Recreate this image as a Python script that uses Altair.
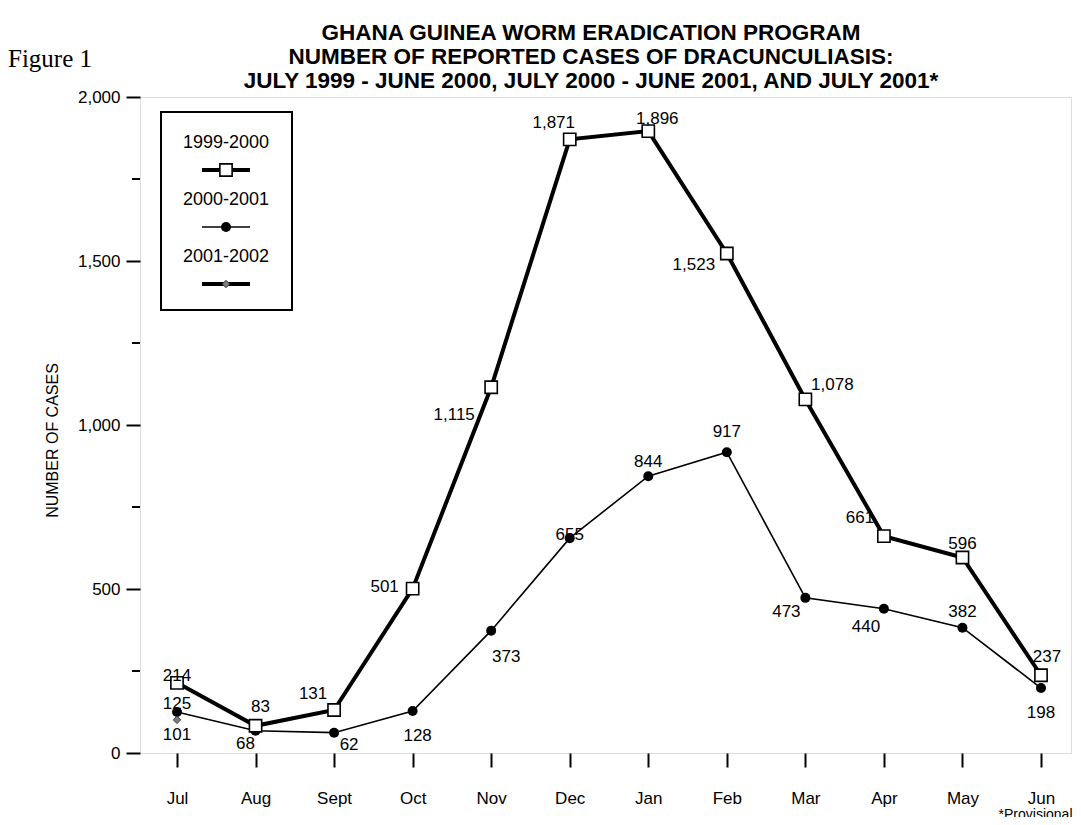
import altair as alt
import pandas as pd

# ---------------- data ----------------
months = ["Jul", "Aug", "Sept", "Oct", "Nov", "Dec", "Jan", "Feb", "Mar", "Apr", "May", "Jun"]
series_names = ["1999-2000", "2000-2001", "2001-2002"]
cases_1999_2000 = [214, 83, 131, 501, 1115, 1871, 1896, 1523, 1078, 661, 596, 237]
cases_2000_2001 = [125, 68, 62, 128, 373, 655, 844, 917, 473, 440, 382, 198]
months_2001_2002 = ["Jul"]
cases_2001_2002 = [101]
y_ticks = [0, 500, 1000, 1500, 2000]
y_minor_ticks = [250, 750, 1250, 1750]
title_lines = [
    "GHANA GUINEA WORM ERADICATION PROGRAM",
    "NUMBER OF REPORTED CASES OF DRACUNCULIASIS:",
    "JULY 1999 - JUNE 2000, JULY 2000 - JUNE 2001, AND JULY 2001*",
]

# label offsets (pixels) of each value label from its marker
label_dx_1999 = [0, 5, -21, -28, -37, -16, 9, -33, 27, -24, 0, 6]
label_dy_1999 = [-7, -19, -16, -2, 28, -16, -12, 12, -14, -18, -14, -18]
label_dx_2000 = [0, -10, 15, 5, 15, 0, 0, 0, -19, -18, 0, 0]
label_dy_2000 = [-8, 13, 12, 25, 26, -3, -14, -20, 14, 18, -16, 25]
label_dx_2001 = [0]
label_dy_2001 = [15]

FONT = "Liberation Sans"
PLOT_W = 931
PLOT_H = 656

df99 = pd.DataFrame({"month": months, "cases": cases_1999_2000, "dx": label_dx_1999, "dy": label_dy_1999})
df00 = pd.DataFrame({"month": months, "cases": cases_2000_2001, "dx": label_dx_2000, "dy": label_dy_2000})
df01 = pd.DataFrame({"month": months_2001_2002, "cases": cases_2001_2002, "dx": label_dx_2001, "dy": label_dy_2001})

x_enc = alt.X(
    "month:N",
    sort=months,
    scale=alt.Scale(type="point", domain=months, padding=0, range=[37, 901]),
    axis=alt.Axis(
        title="*Provisional", titleX=PLOT_W + 1, titleAlign="right", titleFontSize=14,
        titleFontWeight="normal", titlePadding=1, titleFont=FONT, titleColor="black",
        labelAngle=0, labelFontSize=17, labelPadding=23, labelFont=FONT, labelColor="black",
        tickSize=14, tickWidth=2, tickColor="black", domain=False, grid=False,
    ),
)
y_enc = alt.Y(
    "cases:Q",
    scale=alt.Scale(domain=[0, 2000], nice=False, zero=True),
    axis=alt.Axis(
        title="NUMBER OF CASES", titleFontSize=16, titleFontWeight="normal", titleFont=FONT,
        titleColor="black", titleX=-88, titleY=343, titleBaseline="middle", titleAngle=270,
        values=y_ticks, format=",.0f", labelFontSize=17, labelPadding=6, labelFont=FONT,
        labelColor="black", tickSize=14, tickWidth=2, tickColor="black", domain=False, grid=False,
    ),
)

minor = alt.Chart(pd.DataFrame({"cases": y_minor_ticks})).mark_rule(
    color="black", strokeWidth=2
).encode(y=y_enc, x=alt.value(-8), x2=alt.value(0))

line00 = alt.Chart(df00).mark_line(color="black", strokeWidth=1.6).encode(x=x_enc, y=y_enc)
pts00 = alt.Chart(df00).mark_point(shape="circle", filled=True, color="black", size=100, opacity=1).encode(x=x_enc, y=y_enc)
line99 = alt.Chart(df99).mark_line(color="black", strokeWidth=4).encode(x=x_enc, y=y_enc)
pts99 = alt.Chart(df99).mark_point(
    shape="square", filled=True, fill="white", stroke="black", strokeWidth=1.6, size=150, opacity=1
).encode(x=x_enc, y=y_enc)
pts01 = alt.Chart(df01).mark_point(
    shape="diamond", filled=True, fill="#808080", stroke="#333333", strokeWidth=1, size=55, opacity=1
).encode(x=x_enc, y=y_enc)


def labels(df):
    return alt.Chart(df).mark_text(
        font=FONT, fontSize=17, color="black", align="center", baseline="middle",
        dx=alt.ExprRef(expr="datum.dx"), dy=alt.ExprRef(expr="datum.dy"),
    ).encode(x=x_enc, y=y_enc, text=alt.Text("cases:Q", format=",.0f"))


lab99 = labels(df99)
lab00 = labels(df00)
lab01 = labels(df01)

# ---------------- custom legend (inside plot, top-left) ----------------
legend_layers = [
    alt.Chart(pd.DataFrame({"series": series_names[:1]})).mark_rect(
        fill="white", stroke="black", strokeWidth=2
    ).encode(x=alt.value(21), x2=alt.value(152), y=alt.value(15), y2=alt.value(213))
]
legend_styles = [
    dict(width=4, shape="square", fill="white", stroke="black", size=150, sw=1.6),
    dict(width=1.6, shape="circle", fill="black", stroke="black", size=100, sw=0),
    dict(width=4, shape="diamond", fill="#808080", stroke="#333333", size=55, sw=1),
]
for i, name in enumerate(series_names):
    st = legend_styles[i]
    ty = 46 + i * 57
    sy = 73 + i * 57
    d = pd.DataFrame({"series": [name]})
    legend_layers.append(
        alt.Chart(d).mark_text(font=FONT, fontSize=18, color="black", align="center", baseline="middle")
        .encode(x=alt.value(86), y=alt.value(ty), text="series:N")
    )
    legend_layers.append(
        alt.Chart(d).mark_rule(color="black", strokeWidth=st["width"])
        .encode(x=alt.value(62), x2=alt.value(110), y=alt.value(sy))
    )
    legend_layers.append(
        alt.Chart(d).mark_point(
            shape=st["shape"], filled=True, fill=st["fill"], stroke=st["stroke"],
            strokeWidth=st["sw"], size=st["size"], opacity=1,
        ).encode(x=alt.value(86), y=alt.value(sy))
    )

# ---------------- titles ----------------
main_title = alt.Chart(pd.DataFrame({"t": ["title"]})).mark_text(
    text=title_lines, font=FONT, fontSize=22.5, fontWeight="bold", color="black",
    align="center", baseline="middle", lineHeight=24,
).encode(x=alt.value(451), y=alt.value(-64))

fig_label = alt.Chart(pd.DataFrame({"t": ["Figure 1"]})).mark_text(
    font="Liberation Serif", fontSize=25, color="black", align="left", baseline="middle"
).encode(x=alt.value(-132), y=alt.value(-38), text="t:N")

chart = alt.layer(
    minor, line00, pts00, line99, pts99, pts01, lab00, lab99, lab01,
    main_title, fig_label, *legend_layers
).properties(
    width=PLOT_W,
    height=PLOT_H,
    padding={"left": 132, "top": 89, "right": 2, "bottom": 64},
    autosize=alt.AutoSizeParams(type="none"),
).configure_view(stroke="black", strokeWidth=2).configure(font=FONT)

chart.save("out.html", embed_options={"renderer": "svg", "actions": False})
